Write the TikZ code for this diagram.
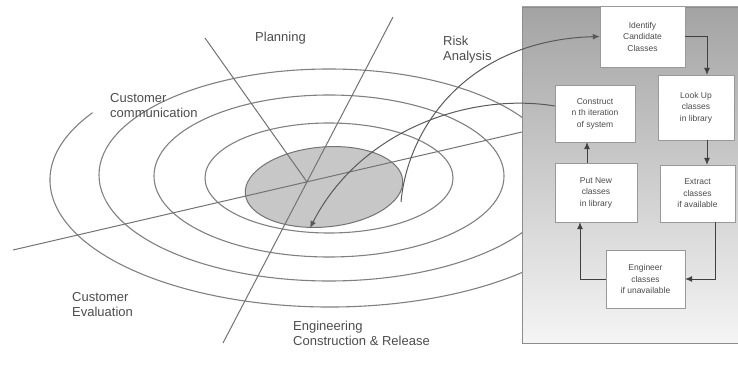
\documentclass[tikz,border=0pt]{standalone}
\usepackage{fontspec}
\setmainfont{Liberation Sans}
\usetikzlibrary{arrows.meta,calc}

\begin{document}
\begin{tikzpicture}[x=1pt,y=1pt,font=\fontsize{13}{15}\selectfont]
\useasboundingbox (0,0) rectangle (738,-371);
\tikzset{
  ring/.style={black!50,line width=1.1pt},
  axis/.style={black!55,line width=1pt},
  flow/.style={black!65,line width=1pt,-{Latex[length=7pt,width=6pt]}},
  lbl/.style={text=black!70,align=left,anchor=west,inner sep=0pt},
  cls/.style={draw=black!40,fill=white,align=center,text=black!70,inner sep=1pt,font=\fontsize{8.5}{11.5}\selectfont},
  link/.style={black!75,line width=0.8pt,-{Latex[length=7pt,width=6pt]}}
}
% spiral
\draw[ring] (330,-180) ++(148:280 and 127) arc[start angle=148,end angle=370,x radius=280,y radius=127];
\foreach \rx/\ry/\cy in {230/106/-175,175/81/-176,124/55/-178}
  \draw[ring] (329,\cy) ellipse[x radius=\rx,y radius=\ry];
\draw[black!55,fill=black!22,line width=1pt,rotate around={5:(324,-187)}] (324,-187) ellipse[x radius=79,y radius=40];

\coordinate (hub) at (307,-182);
\draw[axis] (205,-38) -- (hub);
\draw[axis] (393,-17) -- (223,-343);
\draw[axis] (13,-250) -- (522,-132);

\node[lbl] (plan) at (255,-38) {Planning};
\node[lbl] (risk) at (443,-50) {Risk\\Analysis};
\node[lbl] (comm) at (110,-106) {Customer\\communication};
\node[lbl] (eval) at (72,-305) {Customer\\Evaluation};
\node[lbl] (eng) at (293,-333) {Engineering\\Construction \& Release};

% component panel
\shade[top color=black!36,bottom color=black!4] (522,-7) rectangle (738,-343);
\draw[black!45] (738,-7) -- (522,-7) -- (522,-343) -- (738,-343);

\node[cls,minimum width=85pt,minimum height=61pt] (ident) at (642.5,-36.5) {Identify\\Candidate\\Classes};
\node[cls,minimum width=76pt,minimum height=65pt] (lookup) at (696,-107.5) {Look Up\\classes\\in library};
\node[cls,minimum width=80pt,minimum height=57pt] (construct) at (595,-113.5) {Construct\\n th iteration\\of system};
\node[cls,minimum width=75pt,minimum height=57pt] (extract) at (697.5,-193.5) {Extract\\classes\\if available};
\node[cls,minimum width=82pt,minimum height=59pt] (putnew) at (596,-192.5) {Put New\\classes\\in library};
\node[cls,minimum width=79pt,minimum height=58pt] (engineer) at (645.5,-279) {Engineer\\classes\\if unavailable};

\draw[link] (ident.east) -| ($(lookup.north)+(11,0)$);
\draw[link] ($(lookup.south)+(11,0)$) -- ($(extract.north)+(9.5,0)$);
\draw[link] ($(extract.south)+(17.5,0)$) |- (engineer.east);
\draw[link] (engineer.west) -| ($(putnew.south)+(-16,0)$);
\draw[link] ($(putnew.north)+(-9,0)$) -- ($(construct.south)+(-8,0)$);

% into and out of the spiral
\coordinate (spin) at (310,-228);
\coordinate (spout) at (401,-202);
\draw[flow] (spout) .. controls (408,-125) and (470,-40) .. (ident.west);
\draw[flow] ($(construct.west)+(0,7.5)$) .. controls (470,-92) and (360,-130) .. (spin);
\end{tikzpicture}
\end{document}
